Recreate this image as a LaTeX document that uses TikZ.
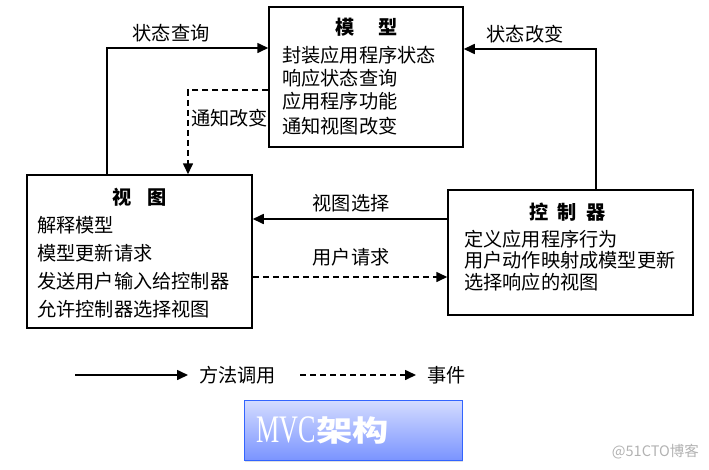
\documentclass[tikz,border=0pt]{standalone}
\usepackage{fontspec}
\setmainfont{Noto Sans CJK SC}
\newfontfamily\serifmvc{Liberation Serif}
\usetikzlibrary{arrows.meta,shadows}
\tikzset{
  box/.style={draw=black, line width=1.5pt, rectangle, inner sep=0pt},
  txt/.style={anchor=west, inner sep=0pt, font=\fontsize{19.2}{22}\selectfont},
  lbl/.style={inner sep=0pt, font=\fontsize{19.2}{22}\selectfont},
  ttl/.style={inner sep=0pt, font=\fontsize{19.2}{22}\selectfont\bfseries},
  arr/.style={line width=1.6pt, -{Triangle[length=11pt,width=10pt]}},
  darr/.style={arr, dash pattern=on 6pt off 4pt},
}
\begin{document}
\begin{tikzpicture}[x=1pt,y=-1pt]
\useasboundingbox (0,0) rectangle (709,469);
% boxes
\node[box, minimum width=194pt, minimum height=140pt] (model) at (366,77) {};
\node[box, minimum width=225pt, minimum height=153pt] (view) at (139.5,251.5) {};
\node[box, minimum width=245pt, minimum height=125pt] (ctrl) at (570.5,252.5) {};
% model texts
\node[ttl] (mt) at (366.5,27) {模\hspace{24pt}型};
\node[txt] (m1) at (282,55) {封装应用程序状态};
\node[txt] (m2) at (282,78) {响应状态查询};
\node[txt] (m3) at (282,101) {应用程序功能};
\node[txt] (m4) at (282,126) {通知视图改变};
% view texts
\node[ttl] (vt) at (139.5,197) {视\hspace{16pt}图};
\node[txt] (v1) at (37,225) {解释模型};
\node[txt] (v2) at (37,253) {模型更新请求};
\node[txt] (v3) at (37,281) {发送用户输入给控制器};
\node[txt] (v4) at (37,309) {允许控制器选择视图};
% controller texts
\node[ttl] (ct) at (567.5,212) {控\hspace{9pt}制\hspace{9pt}器};
\node[txt] (c1) at (464,239) {定义应用程序行为};
\node[txt] (c2) at (464,260) {用户动作映射成模型更新};
\node[txt] (c3) at (464,282) {选择响应的视图};
% connector helper coordinates
\coordinate (q) at (107,48);
\coordinate (n) at (188,90);
\coordinate (s) at (596,49);
\coordinate (v) at (0,219);
\coordinate (u) at (0,277);
% connectors
\draw[arr] (view.north -| q) |- (model.west |- q);
\draw[darr] (model.west |- n) -| (view.north -| n);
\draw[arr] (ctrl.north -| s) |- (model.east |- s);
\draw[arr] (ctrl.west |- v) -- (view.east |- v);
\draw[darr] (view.east |- u) -- (ctrl.west |- u);
% labels
\node[lbl] (lq) at (171,33) {状态查询};
\node[lbl, anchor=west] (ln) at (191,118) {通知改变};
\node[lbl] (ls) at (525,34) {状态改变};
\node[lbl] (lv) at (351,203) {视图选择};
\node[lbl] (lu) at (351,257) {用户请求};
% legend
\coordinate (l1) at (75,375);
\coordinate (l2) at (188,375);
\coordinate (l3) at (300,375);
\coordinate (l4) at (416,375);
\draw[arr] (l1) -- (l2);
\draw[darr] (l3) -- (l4);
\node[lbl, anchor=west] (lg1) at (199,375) {方法调用};
\node[lbl, anchor=west] (lg2) at (427,375) {事件};
% MVC box
\node[draw={rgb,255:red,50;green,100;blue,255}, line width=1pt,
      top color={rgb,255:red,212;green,220;blue,255},
      bottom color={rgb,255:red,122;green,148;blue,255},
      minimum width=218pt, minimum height=60pt, inner sep=0pt,
      drop shadow={opacity=0.25, shadow xshift=1pt, shadow yshift=-2pt}] (mvc) at (353,430) {};
\node[anchor=west, inner sep=0pt, text=white] (mvct) at (256,430)
  {\scalebox{0.67}[1]{\serifmvc\fontsize{39}{39}\selectfont MVC}};
\node[anchor=west, inner sep=0pt, text=white] (mvcc) at (316,431)
  {\scalebox{1.25}[1]{\fontsize{29}{29}\selectfont\bfseries 架构}};
% watermark
\node[anchor=east, inner sep=0pt, text=black!30] (wm) at (699,452)
  {\fontsize{14.5}{15}\selectfont @51CTO博客};
\end{tikzpicture}
\end{document}
